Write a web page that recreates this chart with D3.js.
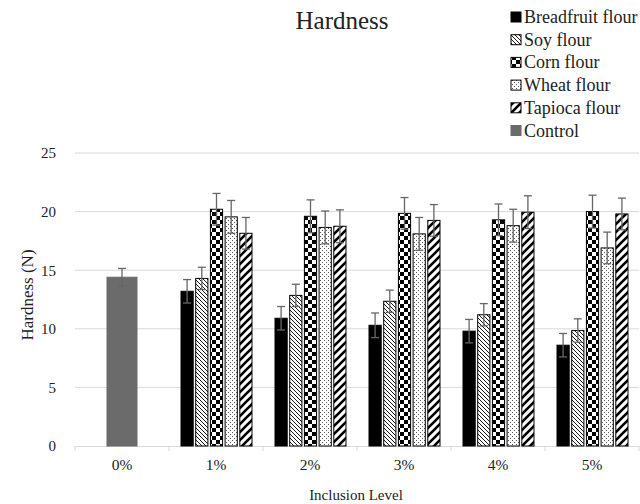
<!DOCTYPE html>
<html><head><meta charset="utf-8">
<script src="https://cdn.jsdelivr.net/npm/d3@7"></script>
<style>body{margin:0;background:#fff}svg{display:block}</style>
</head><body><svg id="c" width="640" height="504"></svg>
<script>
const categories = ["0%","1%","2%","3%","4%","5%"];
const seriesNames = ["Breadfruit flour","Soy flour","Corn flour","Wheat flour","Tapioca flour","Control"];
const controlValue = 14.4, controlErr = 0.75;
const breadfruit = [null,13.2,10.9,10.3,9.8,8.6];
const breadfruitErr = [null,1.0,1.0,1.05,1.0,1.0];
const soy = [null,14.3,12.85,12.35,11.2,9.85];
const soyErr = [null,0.95,0.95,0.95,0.95,1.0];
const corn = [null,20.2,19.6,19.85,19.3,20.0];
const cornErr = [null,1.35,1.4,1.35,1.35,1.4];
const wheat = [null,19.55,18.65,18.1,18.8,16.9];
const wheatErr = [null,1.4,1.4,1.4,1.4,1.35];
const tapioca = [null,18.15,18.75,19.25,19.95,19.8];
const tapiocaErr = [null,1.35,1.4,1.35,1.4,1.35];
const yTicks = [0,5,10,15,20,25];

(function(){
const FONT = "'Liberation Serif', 'Times New Roman', serif";
const svg = d3.select("#c");
const defs = svg.append("defs");
function pat(id,w,h,draw){const p=defs.append("pattern").attr("id",id).attr("patternUnits","userSpaceOnUse").attr("width",w).attr("height",h);p.append("rect").attr("width",w).attr("height",h).attr("fill","#fff");draw(p);}
pat("soy",4,4,p=>{p.append("path").attr("d","M-1,-1 L5,5 M3,-1 L5,1 M-1,3 L1,5").attr("stroke","#000").attr("stroke-width",0.9);});
pat("corn",8,8,p=>{p.append("rect").attr("width",4).attr("height",4).attr("fill","#000");p.append("rect").attr("x",4).attr("y",4).attr("width",4).attr("height",4).attr("fill","#000");});
pat("wheat",4,4,p=>{p.append("rect").attr("x",0).attr("y",0).attr("width",1).attr("height",1).attr("fill","#555");p.append("rect").attr("x",2).attr("y",2).attr("width",1).attr("height",1).attr("fill","#555");});
pat("tapioca",8,8,p=>{p.append("path").attr("d","M-2,10 L10,-2 M-2,2 L2,-2 M6,10 L10,6").attr("stroke","#000").attr("stroke-width",2.6);});
const fills = ["#000","url(#soy)","url(#corn)","url(#wheat)","url(#tapioca)","#6b6b6b"];

const pl=75, pr=639, pt=153, pb=446;
const x = d3.scaleBand().domain(categories).range([pl,pr]);
const y = d3.scaleLinear().domain([0,25]).range([pb,pt]);

svg.append("g").selectAll("line").data(yTicks.filter(d=>d>0)).join("line")
 .attr("x1",pl).attr("x2",pr).attr("y1",d=>y(d)).attr("y2",d=>y(d))
 .attr("stroke","#d9d9d9").attr("stroke-width",1);
const ya = svg.append("g").attr("transform",`translate(${pl-19},0)`).call(d3.axisLeft(y).tickValues(yTicks).tickSize(0).tickPadding(0));
ya.select(".domain").remove();
ya.selectAll("text").style("font-family",FONT).style("font-size","15px").attr("fill","#222");
const xa = svg.append("g").attr("transform",`translate(0,${pb})`).call(d3.axisBottom(x).tickSize(0).tickPadding(13));
xa.select(".domain").attr("stroke","#d9d9d9");
xa.selectAll("text").style("font-family",FONT).style("font-size","15.5px").attr("fill","#222");
svg.append("g").selectAll("line").data(categories.map(c=>x(c)).concat([pr])).join("line")
 .attr("x1",d=>d).attr("x2",d=>d).attr("y1",pb).attr("y2",pb+5).attr("stroke","#d9d9d9");

const flour = [breadfruit,soy,corn,wheat,tapioca];
const flourErr = [breadfruitErr,soyErr,cornErr,wheatErr,tapiocaErr];
const inner = d3.scaleBand().domain(d3.range(5)).range([-35,36]).paddingInner(0.17);
const bars=[];
categories.forEach((c,ci)=>{
  flour.forEach((s,si)=>{ if(s[ci]!=null) bars.push({x:x(c)+x.bandwidth()/2+inner(si),w:inner.bandwidth(),v:s[ci],e:flourErr[si][ci],f:fills[si],stroke:"#000"}); });
});
bars.push({x:x("0%")+x.bandwidth()/2-15,w:30,v:controlValue,e:controlErr,f:fills[5],stroke:"#6b6b6b"});
svg.append("g").selectAll("rect").data(bars).join("rect")
 .attr("x",d=>d.x).attr("width",d=>d.w).attr("y",d=>y(d.v)).attr("height",d=>y(0)-y(d.v))
 .attr("fill",d=>d.f).attr("stroke",d=>d.stroke).attr("stroke-width",1);
const eg = svg.append("g").attr("stroke","#666").attr("stroke-width",1.3);
bars.forEach(d=>{
  const cx=d.x+d.w/2;
  eg.append("line").attr("x1",cx).attr("x2",cx).attr("y1",y(d.v+d.e)).attr("y2",y(d.v-d.e));
  eg.append("line").attr("x1",cx-4).attr("x2",cx+4).attr("y1",y(d.v+d.e)).attr("y2",y(d.v+d.e));
  eg.append("line").attr("x1",cx-4).attr("x2",cx+4).attr("y1",y(d.v-d.e)).attr("y2",y(d.v-d.e));
});

function txt(sel){return sel.style("font-family",FONT).attr("fill","#222");}
txt(svg.append("text").attr("x",342).attr("y",29).attr("text-anchor","middle").style("font-size","25px").text("Hardness"));
txt(svg.append("text").attr("transform","translate(33,295) rotate(-90)").attr("text-anchor","middle").style("font-size","17px").text("Hardness (N)"));
txt(svg.append("text").attr("x",356).attr("y",500).attr("text-anchor","middle").style("font-size","15px").text("Inclusion Level"));

const lg = svg.append("g");
seriesNames.forEach((n,i)=>{
  const ly = 17+i*22.7;
  lg.append("rect").attr("x",511).attr("y",ly-5).attr("width",10).attr("height",10).attr("fill",fills[i]).attr("stroke",i==5?"#6b6b6b":"#000").attr("stroke-width",1);
  txt(lg.append("text").attr("x",524).attr("y",ly+6).style("font-size","18px").text(n));
});
})();
</script></body></html>
